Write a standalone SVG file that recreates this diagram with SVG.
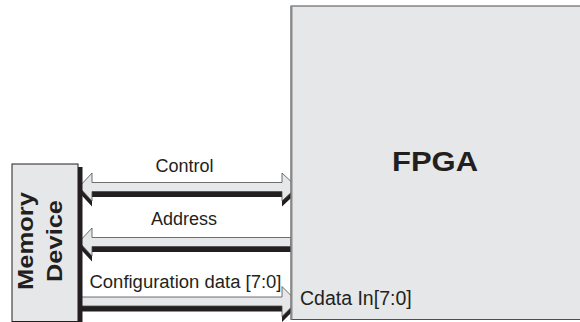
<svg xmlns="http://www.w3.org/2000/svg" width="580" height="322" viewBox="0 0 580 322">
<style>
.lbl{font-family:"Liberation Sans",Arial,sans-serif;fill:#231f20}
.bold{font-weight:bold}
.bus{fill:#e6e7e8;stroke:#4d4d4d;stroke-width:0.8}
.shadow{fill:#231f20}
</style>
<rect width="580" height="322" fill="#ffffff"/>
<g id="connectors">
  <g id="control-bus">
    <path class="shadow" transform="translate(0,5.5)" d="M79,187 L92,173 L92,182.5 L282,182.5 L282,173 L297,187 L282,201 L282,191.5 L92,191.5 L92,201 Z"/>
    <path class="bus" d="M79,187 L92,173 L92,182.5 L282,182.5 L282,173 L297,187 L282,201 L282,191.5 L92,191.5 L92,201 Z"/>
  </g>
  <g id="address-bus">
    <path class="shadow" transform="translate(0,5.5)" d="M79,242 L92,228 L92,237.5 L291,237.5 L291,246.5 L92,246.5 L92,256 Z"/>
    <path class="bus" d="M79,242 L92,228 L92,237.5 L291,237.5 L291,246.5 L92,246.5 L92,256 Z"/>
  </g>
  <g id="config-bus">
    <path class="shadow" transform="translate(0,5.5)" d="M79,297 L282,297 L282,286.5 L297,301.5 L282,316.5 L282,306 L79,306 Z"/>
    <path class="bus" d="M79,297 L282,297 L282,286.5 L297,301.5 L282,316.5 L282,306 L79,306 Z"/>
  </g>
  <text class="lbl" x="184.5" y="171.5" font-size="18" text-anchor="middle">Control</text>
  <text class="lbl" x="184" y="224.5" font-size="18" text-anchor="middle">Address</text>
  <text class="lbl" x="89.5" y="288" font-size="17.6" textLength="192" lengthAdjust="spacingAndGlyphs">Configuration data [7:0]</text>
</g>
<g id="memory-device">
  <rect x="78" y="167" width="4.5" height="156" fill="#231f20"/>
  <rect x="12" y="164" width="66" height="157.5" fill="#e6e7e8" stroke="#231f20" stroke-width="1"/>
  <text class="lbl bold" font-size="22" transform="translate(33,290) rotate(-90)" textLength="98" lengthAdjust="spacingAndGlyphs">Memory</text>
  <text class="lbl bold" font-size="22" transform="translate(62,282) rotate(-90)" textLength="82" lengthAdjust="spacingAndGlyphs">Device</text>
</g>
<g id="fpga">
  <rect x="291" y="6" width="300" height="313.5" fill="#e6e7e8" stroke="#4d4d4d" stroke-width="1"/>
  <line x1="291.5" y1="6" x2="291.5" y2="319.5" stroke="#8a8a8a" stroke-width="2"/>
  <text class="lbl bold" x="392" y="171" font-size="28" textLength="86" lengthAdjust="spacingAndGlyphs">FPGA</text>
  <text class="lbl" x="300" y="305" font-size="19.5">Cdata In[7:0]</text>
</g>
</svg>
